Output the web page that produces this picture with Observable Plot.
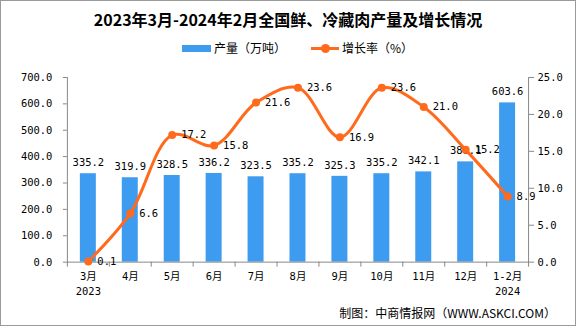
<!DOCTYPE html>
<html><head><meta charset="utf-8">
<script src="https://cdn.jsdelivr.net/npm/d3@7"></script>
<script src="https://cdn.jsdelivr.net/npm/@observablehq/plot@0.6"></script>
<style>
body{margin:0;background:#fff}
#wrap{width:576px;height:326px;box-sizing:border-box;border:1px solid #9a9a9a;position:relative;overflow:hidden;font-family:"Noto Sans CJK SC",sans-serif;color:#000}
#title{position:absolute;top:7px;left:0;width:100%;text-align:center;font-size:16px;font-weight:bold;line-height:22px}
#legend{position:absolute;top:39px;left:181px;height:16px;font-size:12px;line-height:16px;display:flex;align-items:center}
.sw{display:inline-block;width:29px;height:7px;background:#3D9BF0;margin-right:3px}
.ln{display:inline-block;width:28px;height:3px;background:#FF6A1C;position:relative;margin-right:3px}
.ln::after{content:"";position:absolute;left:10px;top:-3px;width:9px;height:9px;border-radius:50%;background:#FF6A1C}
#chart{position:absolute;top:61px;left:-1px}
#caption{position:absolute;top:304px;right:19px;font-size:12px;line-height:16px}
</style></head>
<body>
<div id="wrap">
<div id="title">2023年3月-2024年2月全国鲜、冷藏肉产量及增长情况</div>
<div id="legend"><span class="sw"></span><span>产量（万吨）</span><span style="width:25px;display:inline-block"></span><span class="ln"></span><span>增长率（%）</span></div>
<div id="chart"></div>
<div id="caption">制图：中商情报网（WWW.ASKCI.COM）</div>
</div>
<script>
const months = ["3月","4月","5月","6月","7月","8月","9月","10月","11月","12月","1-2月"];
const tickLabels = ["3月\n2023","4月","5月","6月","7月","8月","9月","10月","11月","12月","1-2月\n2024"];
const output = [335.2,319.9,328.5,336.2,323.5,335.2,325.3,335.2,342.1,380.1,603.6];
const growth = [0.1,6.6,17.2,15.8,21.6,23.6,16.9,23.6,21.0,15.2,8.9];
const leftTicks = [0,100,200,300,400,500,600,700];
const rightTicks = [0,5,10,15,20,25];

const K = 700/25; // map right axis onto left scale
const data = months.map((m,i)=>({m, v: output[i], g: growth[i]}));
const blue = "#3D9BF0", orange = "#FF6A1C", axisColor = "#888";

const chart = Plot.plot({
  width: 576, height: 240,
  marginTop: 15, marginBottom: 40, marginLeft: 67, marginRight: 47,
  style: {fontFamily: '"DejaVu Sans Mono","Noto Sans CJK SC",monospace', fontSize: "10.5px", color: "#000", background: "transparent"},
  x: {type: "band", domain: months, paddingInner: 0.62, paddingOuter: 0.31, axis: null},
  y: {domain: [0,700], axis: null},
  marks: [
    Plot.barY(data, {x: "m", y: "v", fill: blue}),
    Plot.frame({anchor: "left", stroke: axisColor}),
    Plot.frame({anchor: "right", stroke: axisColor}),
    Plot.frame({anchor: "bottom", stroke: axisColor}),
    Plot.ruleX(months, {x: d=>d, dx: -21, y1: 0, y2: -19, stroke: axisColor}),
    Plot.ruleX(months.slice(-1), {x: d=>d, dx: 21, y1: 0, y2: -19, stroke: axisColor}),
    Plot.axisY({anchor: "left", label: null, ticks: leftTicks, tickFormat: d=>d.toFixed(1), tickSize: 4, tickPadding: 11, stroke: axisColor, fill: "#000"}),
    Plot.axisY({anchor: "right", label: null, ticks: rightTicks.map(v=>v*K), tickFormat: d=>(d/K).toFixed(1), tickSize: 5, tickPadding: 4, stroke: axisColor, fill: "#000"}),
    Plot.axisX({label: null, tickSize: 0, tickPadding: 7, tickFormat: (d)=>tickLabels[months.indexOf(d)], lineHeight: 1.45, fill: "#000"}),
    Plot.text(data, {x: "m", y: "v", text: d=>d.v.toFixed(1), dy: -11, fill: "#000"}),
    Plot.line(data, {x: "m", y: d=>d.g*K, stroke: orange, strokeWidth: 3, curve: "catmull-rom"}),
    Plot.dot(data, {x: "m", y: d=>d.g*K, r: 4, fill: orange}),
    Plot.text(data, {x: "m", y: d=>d.g*K, text: d=>d.g.toFixed(1), textAnchor: "start", dx: 9, fill: "#000"})
  ]
});
document.getElementById("chart").appendChild(chart);
</script>
</body></html>
